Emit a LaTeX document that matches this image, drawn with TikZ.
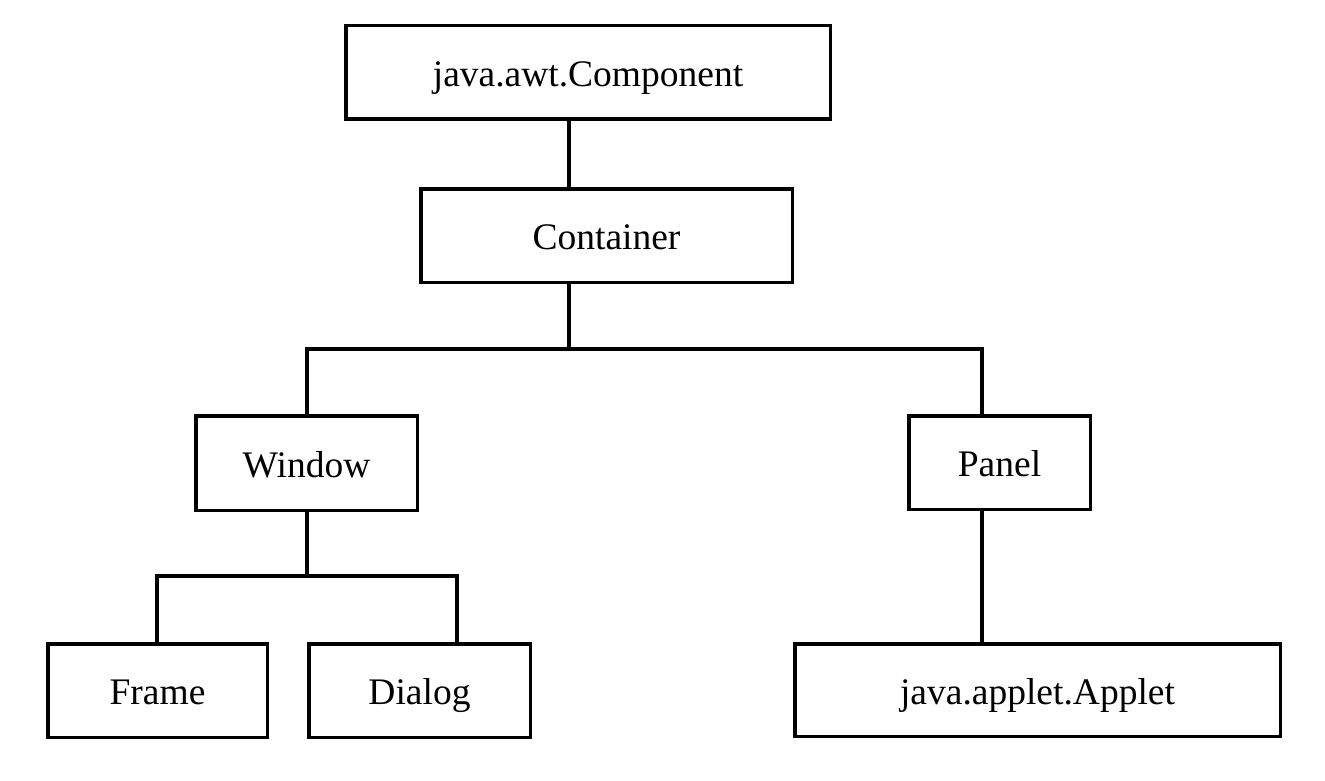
\documentclass[tikz,border=0pt]{standalone}
\usepackage{fontspec}
\setmainfont{Liberation Serif}
\begin{document}
\begin{tikzpicture}[x=1pt,y=-1pt,
  box/.style={draw=black,line width=3.5pt,rectangle,inner sep=0pt,text height=32pt,text depth=4pt,font=\fontsize{37.5}{45}\selectfont},
  link/.style={draw=black,line width=3.5pt,line join=miter}]
\useasboundingbox (0,0) rectangle (1325,781);
\node[box,minimum width=484.5pt,minimum height=93.5pt] (comp) at (588,72.5) {java.awt.Component};
\node[box,minimum width=371.5pt,minimum height=93.5pt] (cont) at (606.5,235.5) {Container};
\node[box,minimum width=221.5pt,minimum height=94.5pt] (win) at (306.5,463) {Window};
\node[box,minimum width=181.5pt,minimum height=93.5pt] (pan) at (999.5,462.5) {Panel};
\node[box,minimum width=219.5pt,minimum height=93.5pt] (frame) at (157.5,690.5) {Frame};
\node[box,minimum width=221.5pt,minimum height=93.5pt] (dialog) at (419.5,690.5) {Dialog};
\node[box,minimum width=485.5pt,minimum height=92.5pt] (app) at (1037.5,690) {java.applet.Applet};
\coordinate (j1) at (569,349);
\coordinate (jw) at (307,349);
\coordinate (jp) at (982,349);
\coordinate (j2) at (307,576);
\coordinate (jf) at (157,576);
\coordinate (jd) at (457,576);
\draw[link] (comp.south -| j1) -- (cont.north -| j1);
\draw[link] (cont.south -| j1) -- (j1);
\draw[link] (win.north -| jw) -- (jw) -- (jp) -- (pan.north -| jp);
\draw[link] (win.south -| j2) -- (j2);
\draw[link] (frame.north -| jf) -- (jf) -- (jd) -- (dialog.north -| jd);
\draw[link] (pan.south -| jp) -- (app.north -| jp);
\end{tikzpicture}
\end{document}
